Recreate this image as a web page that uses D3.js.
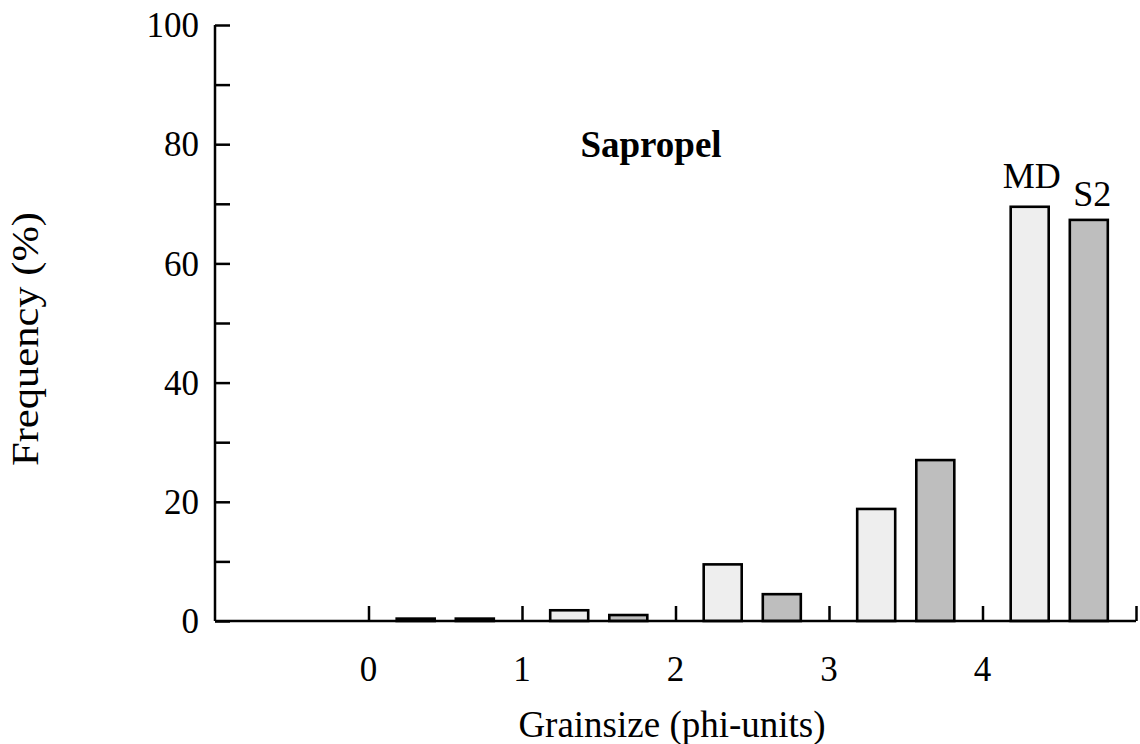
<!DOCTYPE html>
<html>
<head>
<meta charset="utf-8">
<script src="https://cdn.jsdelivr.net/npm/d3@7"></script>
<style>
  html, body { margin: 0; padding: 0; background: #fff; }
  svg { display: block; }
  text { font-family: "Liberation Serif", "Times New Roman", Times, serif; fill: #000; }
</style>
</head>
<body>
<svg id="chart" width="1140" height="744"></svg>
<script>
// ---- data ----
const intervals = [0, 1, 2, 3, 4];            // phi class lower bound
const seriesNames = ["MD", "S2"];
const mdValues = [0.4, 1.8, 9.5, 18.8, 69.5];
const s2Values = [0.4, 1.0, 4.5, 27.0, 67.3];
const yMajorTicks = [0, 20, 40, 60, 80, 100];
const yMinorTicks = [10, 30, 50, 70, 90];
const xTicks = [0, 1, 2, 3, 4, 5];
const xTickLabels = ["0", "1", "2", "3", "4", ""];
const title = "Sapropel";
const xTitle = "Grainsize (phi-units)";
const yTitle = "Frequency (%)";

const svg = d3.select("#chart");
const pLeft = 215, pRight = 1136, pTop = 25, pBottom = 621;

const x = d3.scaleLinear().domain([-1, 5]).range([pLeft, pRight]);
const y = d3.scaleLinear().domain([0, 100]).range([pBottom, pTop]);
const sub = d3.scaleBand().domain(seriesNames).range([0, 1]).paddingInner(0.357).paddingOuter(0.477);
const fills = { MD: "#eeeeee", S2: "#bebebe" };

const bars = [];
intervals.forEach((k, i) => {
  bars.push({ s: "MD", k, v: mdValues[i] });
  bars.push({ s: "S2", k, v: s2Values[i] });
});

// bars
svg.append("g").selectAll("rect").data(bars).join("rect")
  .attr("x", d => x(d.k + sub(d.s)))
  .attr("width", d => x(d.k + sub(d.s) + sub.bandwidth()) - x(d.k + sub(d.s)))
  .attr("y", d => y(d.v))
  .attr("height", d => y(0) - y(d.v))
  .attr("fill", d => fills[d.s])
  .attr("stroke", "#000")
  .attr("stroke-width", 2.6);

// y axis
const yAxis = d3.axisRight(y).tickValues(yMajorTicks.concat(yMinorTicks)).tickSize(15).tickFormat("");
const gy = svg.append("g").attr("transform", `translate(${pLeft},0)`).call(yAxis);
gy.select(".domain").attr("d", `M0,${pTop}V${pBottom}`);
gy.selectAll("path, line").attr("stroke", "#000").attr("stroke-width", 2.5);
svg.append("g").selectAll("text").data(yMajorTicks).join("text")
  .attr("x", pLeft - 16)
  .attr("y", d => y(d))
  .attr("dy", "0.35em")
  .attr("text-anchor", "end")
  .attr("font-size", 35)
  .text(d => d);

// x axis
const xAxis = d3.axisTop(x).tickValues(xTicks).tickSize(15).tickFormat("");
const gx = svg.append("g").attr("transform", `translate(0,${pBottom})`).call(xAxis);
gx.select(".domain").attr("d", `M${pLeft},0H${pRight}`);
gx.selectAll("path, line").attr("stroke", "#000").attr("stroke-width", 2.5);
svg.append("g").selectAll("text").data(xTicks).join("text")
  .attr("x", d => x(d))
  .attr("y", 681)
  .attr("text-anchor", "middle")
  .attr("font-size", 35)
  .text((d, i) => xTickLabels[i]);

// titles
svg.append("text").attr("x", 672).attr("y", 737).attr("text-anchor", "middle")
  .attr("font-size", 37).text(xTitle);
svg.append("text").attr("transform", "translate(38,339) rotate(-90)").attr("text-anchor", "middle")
  .attr("font-size", 38).attr("textLength", 254).attr("lengthAdjust", "spacingAndGlyphs").text(yTitle);
svg.append("text").attr("x", 651).attr("y", 157).attr("text-anchor", "middle")
  .attr("font-size", 37).attr("font-weight", "bold").text(title);

// series labels above the last interval
const lastI = intervals.length - 1;
const lab = [
  { s: "MD", v: mdValues[lastI], dy: -19, dx: 2 },
  { s: "S2", v: s2Values[lastI], dy: -14, dx: 3.5 }
];
svg.append("g").selectAll("text").data(lab).join("text")
  .attr("x", d => x(intervals[lastI] + sub(d.s) + sub.bandwidth() / 2) + d.dx)
  .attr("y", d => y(d.v) + d.dy)
  .attr("text-anchor", "middle")
  .attr("font-size", 36)
  .text(d => d.s);
</script>
</body>
</html>
